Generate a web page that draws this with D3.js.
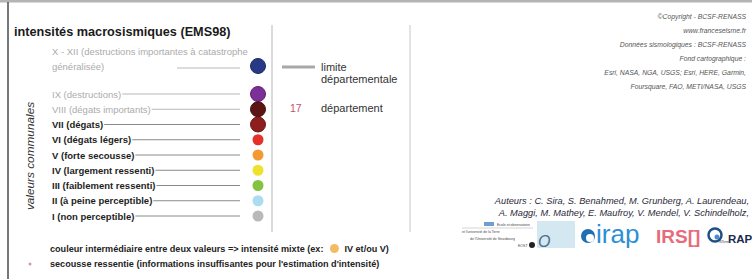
<!DOCTYPE html>
<html>
<head>
<meta charset="utf-8">
<script src="https://cdn.jsdelivr.net/npm/d3@7"></script>
<style>
  body { margin: 0; background: #fff; }
  svg { display: block; font-family: "Liberation Sans", Arial, sans-serif; }
</style>
</head>
<body>
<div id="chart"></div>
<script>
// legend data: intensity classes (top is X - XII)
var classes = ["X - XII", "IX", "VIII", "VII", "VI", "V", "IV", "III", "II", "I"];
var classLabels = [
  "X - XII (destructions importantes à catastrophe",
  "IX (destructions)",
  "VIII (dégats importants)",
  "VII (dégats)",
  "VI (dégats légers)",
  "V (forte secousse)",
  "IV (largement ressenti)",
  "III (faiblement ressenti)",
  "II  (à peine perceptible)",
  "I   (non perceptible)"
];
var classColors = ["#263a85", "#7d2f98", "#5c1414", "#8e1d1d", "#e4322a", "#f29a33", "#efe22e", "#84c340", "#acdcf1", "#b9b9b9"];
var classFaded = [true, true, true, false, false, false, false, false, false, false];
var classLarge = [true, true, true, true, false, false, false, false, false, false];

var credits = [
  "©Copyright - BCSF-RENASS",
  "www.franceseisme.fr",
  "Données sismologiques : BCSF-RENASS",
  "Fond cartographique :",
  "Esri, NASA, NGA, USGS; Esri, HERE, Garmin,",
  "Foursquare, FAO, METI/NASA, USGS"
];
var authors = [
  "Auteurs : C. Sira, S. Benahmed, M. Grunberg, A. Laurendeau,",
  "A. Maggi, M. Mathey, E. Maufroy,  V. Mendel, V. Schindelholz,"
];

var width = 752, height = 279;

var svg = d3.select("#chart")
  .append("svg")
  .attr("width", width)
  .attr("height", height);

// frame
svg.append("rect").attr("x", 0).attr("y", 0).attr("width", width).attr("height", 2.5).attr("fill", "#b4b4b4");
svg.append("line").attr("x1", 8).attr("x2", 8).attr("y1", 2).attr("y2", height)
  .attr("stroke", "#4a4a4a").attr("stroke-width", 1.5);

// separators
svg.append("line").attr("x1", 272).attr("x2", 272).attr("y1", 25).attr("y2", 232)
  .attr("stroke", "#cfcfcf").attr("stroke-width", 1.5);
svg.append("line").attr("x1", 410).attr("x2", 410).attr("y1", 25).attr("y2", 232)
  .attr("stroke", "#d8d8d8").attr("stroke-width", 1.5);

// title
svg.append("text")
  .attr("x", 14).attr("y", 36)
  .style("font-size", "12.7px").style("font-weight", "bold").attr("fill", "#1a1a1a")
  .text("intensités macrosismiques (EMS98)");

// rotated side label
svg.append("text")
  .attr("transform", "translate(34,156) rotate(-90)")
  .attr("text-anchor", "middle")
  .style("font-size", "11.8px").style("font-style", "italic").attr("fill", "#333")
  .text("valeurs communales");

//////////
// LEGEND ROWS //
//////////
var rows = classes.map(function (c, i) {
  return { key: c, label: classLabels[i], color: classColors[i], faded: classFaded[i], large: classLarge[i] };
});

var y = d3.scalePoint()
  .domain(classes.slice(1))
  .range([94, 216]);
var yOf = function (d) { return d.key === "X - XII" ? y("IX") - 28 : y(d.key); };

var circleX = 258, lineEnd = 240, labelX = 52;

var g = svg.append("g");
var row = g.selectAll("g.row")
  .data(rows)
  .enter()
  .append("g")
  .attr("class", "row");

row.append("circle")
  .attr("cx", circleX)
  .attr("cy", yOf)
  .attr("r", function (d) { return d.large ? 7.5 : 5.5; })
  .attr("fill", function (d) { return d.color; })
  .attr("stroke", function (d) { return d.large ? d3.color(d.color).darker(0.8) : "none"; })
  .attr("stroke-width", 1);

row.append("text")
  .attr("x", labelX)
  .attr("y", function (d) { return d.key === "X - XII" ? yOf(d) - 11 : yOf(d) + 3.5; })
  .style("font-size", "9.5px")
  .attr("fill", function (d) { return d.faded ? "#ababab" : "#1e1e1e"; })
  .style("font-weight", function (d) { return d.faded ? "normal" : "bold"; })
  .text(function (d) { return d.label; });

// second line for X - XII
svg.append("text")
  .attr("x", labelX).attr("y", yOf(rows[0]) + 3.5)
  .style("font-size", "9.5px").attr("fill", "#ababab")
  .text("généralisée)");

// leader lines from label end to circle
row.append("line")
  .attr("x1", function (d) {
    if (d.key === "X - XII") return 177;
    return labelX + this.parentNode.querySelector("text").getComputedTextLength() + 1;
  })
  .attr("x2", lineEnd)
  .attr("y1", function (d) { return d.key === "X - XII" ? yOf(d) + 2 : yOf(d); })
  .attr("y2", function (d) { return d.key === "X - XII" ? yOf(d) + 2 : yOf(d); })
  .attr("stroke", function (d) { return d.faded ? "#b8b8b8" : "#8a8a8a"; })
  .attr("stroke-width", 1);

//////////
// DEPARTMENT LEGEND //
//////////
svg.append("line").attr("x1", 282).attr("x2", 315).attr("y1", 67).attr("y2", 67)
  .attr("stroke", "#a8a8a8").attr("stroke-width", 3);
svg.append("text").attr("x", 321).attr("y", 71).style("font-size", "11px").attr("fill", "#333").text("limite");
svg.append("text").attr("x", 321).attr("y", 83).style("font-size", "11px").attr("fill", "#333").text("départementale");
svg.append("text").attr("x", 290).attr("y", 112).style("font-size", "10.5px").attr("fill", "#c2506b").text("17");
svg.append("text").attr("x", 321).attr("y", 112).style("font-size", "11px").attr("fill", "#333").text("département");

//////////
// NOTES //
//////////
var noteSize = "9.1px";
var note1 = svg.append("text").attr("x", 50).attr("y", 252)
  .style("font-size", noteSize).style("font-weight", "bold").attr("fill", "#222");
note1.text("couleur intermédiaire entre deux valeurs => intensité mixte (ex:");
var n1w = note1.node().getComputedTextLength();
svg.append("circle").attr("cx", 50 + n1w + 11).attr("cy", 248.5).attr("r", 4.5).attr("fill", "#f5bb63");
svg.append("text").attr("x", 50 + n1w + 21).attr("y", 252)
  .style("font-size", noteSize).style("font-weight", "bold").attr("fill", "#222")
  .text("IV et/ou V)");
svg.append("circle").attr("cx", 30).attr("cy", 264).attr("r", 1.5).attr("fill", "#c9a0a8");
svg.append("text").attr("x", 50).attr("y", 267)
  .style("font-size", noteSize).style("font-weight", "bold").attr("fill", "#222")
  .text("secousse ressentie (informations insuffisantes pour l'estimation d'intensité)");

//////////
// CREDITS //
//////////
svg.selectAll("text.credit")
  .data(credits)
  .enter()
  .append("text")
  .attr("class", "credit")
  .attr("x", 746)
  .attr("y", function (d, i) { return 19 + i * 14; })
  .attr("text-anchor", "end")
  .style("font-size", "6.8px").style("font-style", "italic").attr("fill", "#555")
  .text(function (d) { return d; });

svg.selectAll("text.author")
  .data(authors)
  .enter()
  .append("text")
  .attr("class", "author")
  .attr("x", 749)
  .attr("y", function (d, i) { return 204 + i * 12; })
  .attr("text-anchor", "end")
  .style("font-size", "9.25px").style("font-style", "italic").attr("fill", "#2a2a3a")
  .text(function (d) { return d; });

//////////
// LOGOS (rough) //
//////////
var logos = svg.append("g");
// EOST block
logos.append("rect").attr("x", 484).attr("y", 222).attr("width", 10).attr("height", 4).attr("fill", "#6f9fd0");
logos.append("text").attr("x", 497).attr("y", 226).style("font-size", "3.5px").attr("fill", "#444").text("Ecole et observatoire");
logos.append("line").attr("x1", 462).attr("x2", 533).attr("y1", 228).attr("y2", 228).attr("stroke", "#bbb").attr("stroke-width", 0.6);
logos.append("text").attr("x", 462).attr("y", 233).style("font-size", "3.5px").attr("fill", "#444").text("et l'université de la Terre");
logos.append("text").attr("x", 470).attr("y", 240).style("font-size", "3.5px").attr("fill", "#444").text("de l'Université de Strasbourg");
logos.append("text").attr("x", 518).attr("y", 247).style("font-size", "3.5px").attr("fill", "#444").text("EOST");
logos.append("circle").attr("cx", 532).attr("cy", 245).attr("r", 3).attr("fill", "#222");
logos.append("rect").attr("x", 537).attr("y", 221).attr("width", 38).attr("height", 27).attr("fill", "#d3e8f1");
logos.append("text").attr("x", 538).attr("y", 247).style("font-size", "16px").style("font-style", "italic").attr("fill", "#4f6f8a").text("O");
// irap
logos.append("circle").attr("cx", 588).attr("cy", 236).attr("r", 7).attr("fill", "#1f6fb2");
logos.append("circle").attr("cx", 590).attr("cy", 238).attr("r", 4).attr("fill", "#fff");
logos.append("text").attr("x", 596).attr("y", 243).style("font-size", "26px").attr("fill", "#2c8fd6").text("irap");
// IRSN
logos.append("text").attr("x", 656).attr("y", 243).style("font-size", "19px").style("font-weight", "bold").attr("fill", "#e86b7c").text("IRS[]");
// ISTerre
logos.append("circle").attr("cx", 715).attr("cy", 235).attr("r", 6.5).attr("fill", "none").attr("stroke", "#1e4f86").attr("stroke-width", 2.5);
logos.append("circle").attr("cx", 717).attr("cy", 237).attr("r", 2.5).attr("fill", "#4d8cc8");
logos.append("text").attr("x", 719).attr("y", 243).style("font-size", "3px").attr("fill", "#333").text("ISTerre");
logos.append("text").attr("x", 728).attr("y", 243).style("font-size", "11.5px").style("font-weight", "bold").attr("fill", "#1b2b4d").text("RAP");
</script>
</body>
</html>
